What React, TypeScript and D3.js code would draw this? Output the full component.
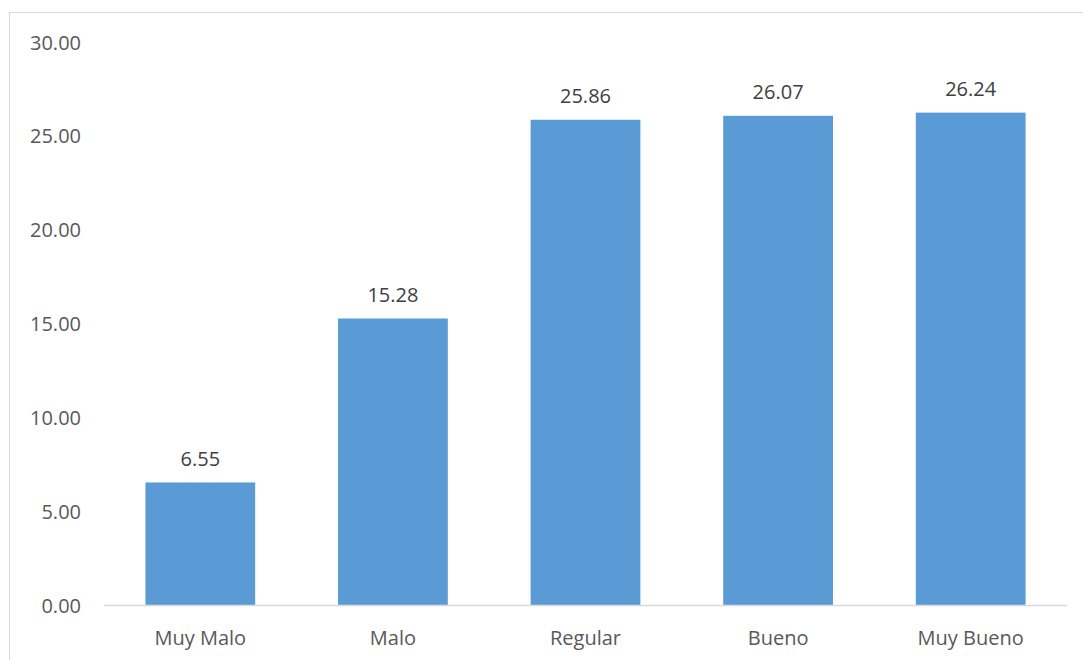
import React from "react";
import * as d3 from "d3";

const categories = ["Muy Malo", "Malo", "Regular", "Bueno", "Muy Bueno"];
const values = [6.55, 15.28, 25.86, 26.07, 26.24];
const yTicks = [0, 5, 10, 15, 20, 25, 30];

const W = 1083;
const H = 660;
const M = { left: 104, right: 16, top: 42, bottom: 54.5 };
const FONT = "'Open Sans', 'Noto Sans', sans-serif";
const FS = 20;

export default function App() {
  const x = d3
    .scaleBand<string>()
    .domain(categories)
    .range([M.left, W - M.right])
    .paddingInner(0.43)
    .paddingOuter(0.215);
  const y = d3.scaleLinear().domain([0, 30]).range([H - M.bottom, M.top]);
  const fmt = d3.format(".2f");

  return (
    <svg
      width={W}
      height={H}
      style={{ position: "absolute", left: 0, top: 0, background: "#fff" }}
      fontFamily={FONT}
    >
      <rect x={9.5} y={12.5} width={W + 10} height={H + 10} fill="#fff" stroke="#d9d9d9" strokeWidth={1} />
      {yTicks.map((t) => (
        <text
          key={t}
          x={81}
          y={y(t)}
          textAnchor="end"
          dominantBaseline="central"
          fontSize={FS}
          fill="#595959"
        >
          {fmt(t)}
        </text>
      ))}
      {categories.map((c, i) => (
        <g key={c}>
          <rect
            x={x(c)!}
            y={y(values[i])}
            width={x.bandwidth()}
            height={y(0) - y(values[i])}
            fill="#5B9BD5"
          />
          <text
            x={x(c)! + x.bandwidth() / 2}
            y={y(values[i]) - 24}
            textAnchor="middle"
            dominantBaseline="central"
            fontSize={FS}
            fill="#404040"
          >
            {fmt(values[i])}
          </text>
          <text
            x={x(c)! + x.bandwidth() / 2}
            y={y(0) + 32}
            textAnchor="middle"
            dominantBaseline="central"
            fontSize={FS}
            fill="#595959"
          >
            {c}
          </text>
        </g>
      ))}
      <line x1={M.left} x2={W - M.right} y1={y(0)} y2={y(0)} stroke="#d9d9d9" strokeWidth={1.5} />
    </svg>
  );
}
